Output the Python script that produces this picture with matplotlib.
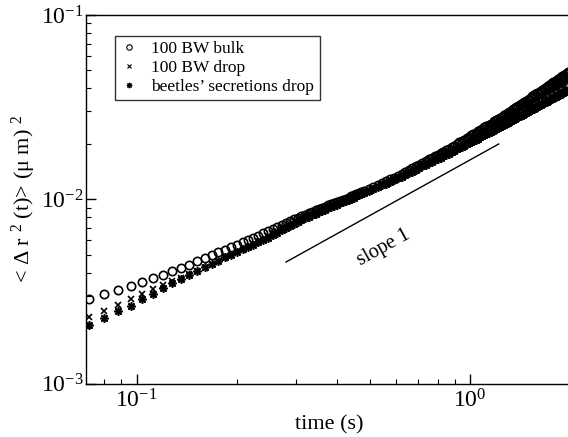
import matplotlib.pyplot as plt
from matplotlib.ticker import NullFormatter

plt.rcParams["font.family"] = "Liberation Serif"
plt.rcParams["mathtext.fontset"] = "custom"
plt.rcParams["mathtext.rm"] = "Liberation Serif"
plt.rcParams["mathtext.it"] = "Liberation Serif:italic"
plt.rcParams["mathtext.bf"] = "Liberation Serif:bold"
plt.rcParams["axes.unicode_minus"] = False

# lag times (s): every frame (125 fps) up to 0.48 s, every 2nd frame after that
time = [0.072, 0.080, 0.088, 0.096, 0.104, 0.112, 0.120, 0.128, 0.136, 0.144,
        0.152, 0.160, 0.168, 0.176, 0.184, 0.192, 0.200, 0.208, 0.216, 0.224,
        0.232, 0.240, 0.248, 0.256, 0.264, 0.272, 0.280, 0.288, 0.296, 0.304,
        0.312, 0.320, 0.328, 0.336, 0.344, 0.352, 0.360, 0.368, 0.376, 0.384,
        0.392, 0.400, 0.408, 0.416, 0.424, 0.432, 0.440, 0.448, 0.456, 0.464,
        0.472, 0.480,
        0.496, 0.512, 0.528, 0.544, 0.560, 0.576, 0.592, 0.608, 0.624, 0.640,
        0.656, 0.672, 0.688, 0.704, 0.720, 0.736, 0.752, 0.768, 0.784, 0.800,
        0.816, 0.832, 0.848, 0.864, 0.880, 0.896, 0.912, 0.928, 0.944, 0.960,
        0.976, 0.992, 1.008, 1.024, 1.040, 1.056, 1.072, 1.088, 1.104, 1.120,
        1.136, 1.152, 1.168, 1.184, 1.200, 1.216, 1.232, 1.248, 1.264, 1.280,
        1.296, 1.312, 1.328, 1.344, 1.360, 1.376, 1.392, 1.408, 1.424, 1.440,
        1.456, 1.472, 1.488, 1.504, 1.520, 1.536, 1.552, 1.568, 1.584, 1.600,
        1.616, 1.632, 1.648, 1.664, 1.680, 1.696, 1.712, 1.728, 1.744, 1.760,
        1.776, 1.792, 1.808, 1.824, 1.840, 1.856, 1.872, 1.888, 1.904, 1.920,
        1.936, 1.952, 1.968]

# MSD (um^2)
msd_bulk = [0.00289, 0.00305, 0.00323, 0.00339, 0.00357, 0.00374, 0.00390, 0.00406, 0.00424, 0.00442,
            0.00460, 0.00479, 0.00498, 0.00516, 0.00533, 0.00550, 0.00567, 0.00585, 0.00602, 0.00618,
            0.00635,
            0.00653, 0.00671, 0.00688, 0.00706, 0.00724, 0.00742, 0.00759, 0.00777, 0.00794, 0.00810,
            0.00826, 0.00841, 0.00855, 0.00869, 0.00883, 0.00898, 0.00912, 0.00926, 0.00940, 0.00953,
            0.00966, 0.00981, 0.00995, 0.01008, 0.01021, 0.01035, 0.01049, 0.01065, 0.01080, 0.01095,
            0.01109,
            0.01139, 0.01169, 0.01197, 0.01225, 0.01253, 0.01281, 0.01310, 0.01339, 0.01372, 0.01404,
            0.01438, 0.01472, 0.01507, 0.01542, 0.01576, 0.01609, 0.01644, 0.01678, 0.01712, 0.01746,
            0.01781, 0.01815, 0.01849, 0.01883, 0.01920, 0.01956, 0.01995, 0.02034, 0.02072, 0.02109,
            0.02148, 0.02186, 0.02225, 0.02263, 0.02300, 0.02338, 0.02377, 0.02416, 0.02455, 0.02493,
            0.02532, 0.02570, 0.02609, 0.02649, 0.02688, 0.02729, 0.02770, 0.02811, 0.02854, 0.02896,
            0.02939, 0.02983, 0.03026, 0.03070, 0.03116, 0.03161, 0.03207, 0.03251, 0.03294, 0.03338,
            0.03383, 0.03429, 0.03474, 0.03520, 0.03566, 0.03612, 0.03658, 0.03704, 0.03750, 0.03796,
            0.03842, 0.03888, 0.03934, 0.03980, 0.04026, 0.04074, 0.04121, 0.04169, 0.04215, 0.04261,
            0.04307, 0.04354, 0.04402, 0.04449, 0.04498, 0.04547, 0.04596, 0.04645, 0.04693, 0.04742,
            0.04797, 0.04851, 0.04906]

msd_drop = [0.00230, 0.00249, 0.00268, 0.00287, 0.00306, 0.00324, 0.00342, 0.00360, 0.00376, 0.00392,
            0.00407, 0.00425, 0.00443, 0.00462, 0.00480, 0.00498, 0.00516, 0.00533, 0.00551, 0.00571,
            0.00592,
            0.00612, 0.00633, 0.00653, 0.00674, 0.00695, 0.00716, 0.00737, 0.00758, 0.00778, 0.00795,
            0.00811, 0.00826, 0.00840, 0.00855, 0.00869, 0.00884, 0.00898, 0.00912, 0.00926, 0.00940,
            0.00953, 0.00967, 0.00981, 0.00995, 0.01008, 0.01022, 0.01036, 0.01052, 0.01067, 0.01081,
            0.01095,
            0.01125, 0.01154, 0.01182, 0.01210, 0.01238, 0.01266, 0.01294, 0.01322, 0.01354, 0.01385,
            0.01417, 0.01448, 0.01482, 0.01515, 0.01547, 0.01579, 0.01611, 0.01643, 0.01676, 0.01708,
            0.01741, 0.01774, 0.01806, 0.01837, 0.01871, 0.01905, 0.01940, 0.01975, 0.02009, 0.02043,
            0.02078, 0.02112, 0.02147, 0.02181, 0.02215, 0.02249, 0.02283, 0.02318, 0.02352, 0.02387,
            0.02423, 0.02458, 0.02492, 0.02527, 0.02561, 0.02597, 0.02633, 0.02669, 0.02705, 0.02742,
            0.02778, 0.02816, 0.02853, 0.02891, 0.02929, 0.02967, 0.03005, 0.03042, 0.03079, 0.03116,
            0.03154, 0.03193, 0.03231, 0.03269, 0.03308, 0.03346, 0.03384, 0.03423, 0.03461, 0.03499,
            0.03537, 0.03575, 0.03613, 0.03651, 0.03689, 0.03728, 0.03767, 0.03806, 0.03845, 0.03883,
            0.03922, 0.03960, 0.03998, 0.04036, 0.04075, 0.04115, 0.04154, 0.04193, 0.04231, 0.04270,
            0.04308, 0.04345, 0.04383]

msd_beetle = [0.00208, 0.00226, 0.00246, 0.00265, 0.00286, 0.00307, 0.00328, 0.00349, 0.00369, 0.00388,
              0.00407, 0.00427, 0.00445, 0.00464, 0.00483, 0.00501, 0.00517, 0.00534, 0.00550, 0.00567,
              0.00583,
              0.00600, 0.00620, 0.00639, 0.00658, 0.00677, 0.00697, 0.00716, 0.00735, 0.00754, 0.00771,
              0.00787, 0.00802, 0.00817, 0.00833, 0.00848, 0.00863, 0.00877, 0.00892, 0.00907, 0.00921,
              0.00935, 0.00950, 0.00964, 0.00978, 0.00992, 0.01007, 0.01021, 0.01036, 0.01050, 0.01064,
              0.01077,
              0.01106, 0.01135, 0.01162, 0.01189, 0.01216, 0.01243, 0.01271, 0.01298, 0.01327, 0.01356,
              0.01385, 0.01414, 0.01445, 0.01476, 0.01506, 0.01535, 0.01565, 0.01594, 0.01624, 0.01654,
              0.01683, 0.01712, 0.01741, 0.01770, 0.01801, 0.01831, 0.01863, 0.01894, 0.01924, 0.01954,
              0.01985, 0.02015, 0.02046, 0.02076, 0.02106, 0.02136, 0.02167, 0.02197, 0.02228, 0.02259,
              0.02289, 0.02320, 0.02350, 0.02380, 0.02410, 0.02441, 0.02473, 0.02504, 0.02534, 0.02565,
              0.02595, 0.02627, 0.02659, 0.02691, 0.02723, 0.02754, 0.02786, 0.02817, 0.02848, 0.02879,
              0.02911, 0.02943, 0.02975, 0.03007, 0.03038, 0.03070, 0.03102, 0.03133, 0.03165, 0.03197,
              0.03228, 0.03260, 0.03291, 0.03322, 0.03353, 0.03385, 0.03416, 0.03448, 0.03480, 0.03512,
              0.03544, 0.03575, 0.03606, 0.03637, 0.03668, 0.03700, 0.03731, 0.03762, 0.03794, 0.03825,
              0.03856, 0.03886, 0.03917]

# guide line of slope 1
slope_x = [0.2806, 1.219]
slope_y = [0.004564, 0.01995]

fig = plt.figure(figsize=(5.68, 4.37), dpi=100)
ax = fig.add_axes([86 / 568, 53.5 / 437, 482 / 568, 368.5 / 437])
ax.set_xscale("log")
ax.set_yscale("log")

ax.plot(time, msd_bulk, linestyle="none", marker="o", mfc="none", mec="black",
        ms=6.0, mew=1.2, label="100 BW bulk")
ax.plot(time, msd_drop, linestyle="none", marker="x", color="black",
        ms=5.0, mew=1.2, label="100 BW drop")
ax.plot(time, msd_beetle, linestyle="none", marker=(8, 2, 0), color="black",
        ms=6.0, mew=1.2, label="beetles\u2019 secretions drop")

ax.plot(slope_x, slope_y, color="black", lw=1.0)
ax.text(0.552, 0.00547, "slope 1", rotation=29, rotation_mode="anchor",
        ha="center", va="center", fontsize=14.5)

ax.set_xlim(0.0705, 1.967)
ax.set_ylim(1e-3, 1e-1)
ax.spines["right"].set_visible(False)
for s in ["left", "bottom", "top"]:
    ax.spines[s].set_linewidth(1.0)

ax.tick_params(which="both", direction="in", top=False, right=False)
ax.tick_params(which="major", length=7, width=1.0, labelsize=17, pad=4)
ax.tick_params(axis="y", which="major", pad=2)
ax.tick_params(which="minor", length=3.5, width=0.8)
ax.xaxis.set_minor_formatter(NullFormatter())
ax.yaxis.set_minor_formatter(NullFormatter())

fig.text(329 / 568, 1 - 425 / 437, "time (s)", ha="center", va="center", fontsize=16)
fig.text(24 / 568, 1 - 199 / 437, "< \u0394 r $^{2}$ (t)> (\u03bc m) $^{2}$",
         rotation=90, ha="center", va="center", fontsize=16)

leg = ax.legend(loc="upper left", bbox_to_anchor=(115 / 568, 1 - 36 / 437),
                bbox_transform=fig.transFigure, frameon=True, fancybox=False,
                edgecolor="black", fontsize=12.5, markerscale=0.65,
                handlelength=1.0, handletextpad=0.8, borderpad=0.3,
                labelspacing=0.15, borderaxespad=0)
leg.get_frame().set_linewidth(1.0)
for h in leg.legend_handles:
    h.set_markeredgewidth(0.8)

fig.savefig("out.png", dpi=100)
